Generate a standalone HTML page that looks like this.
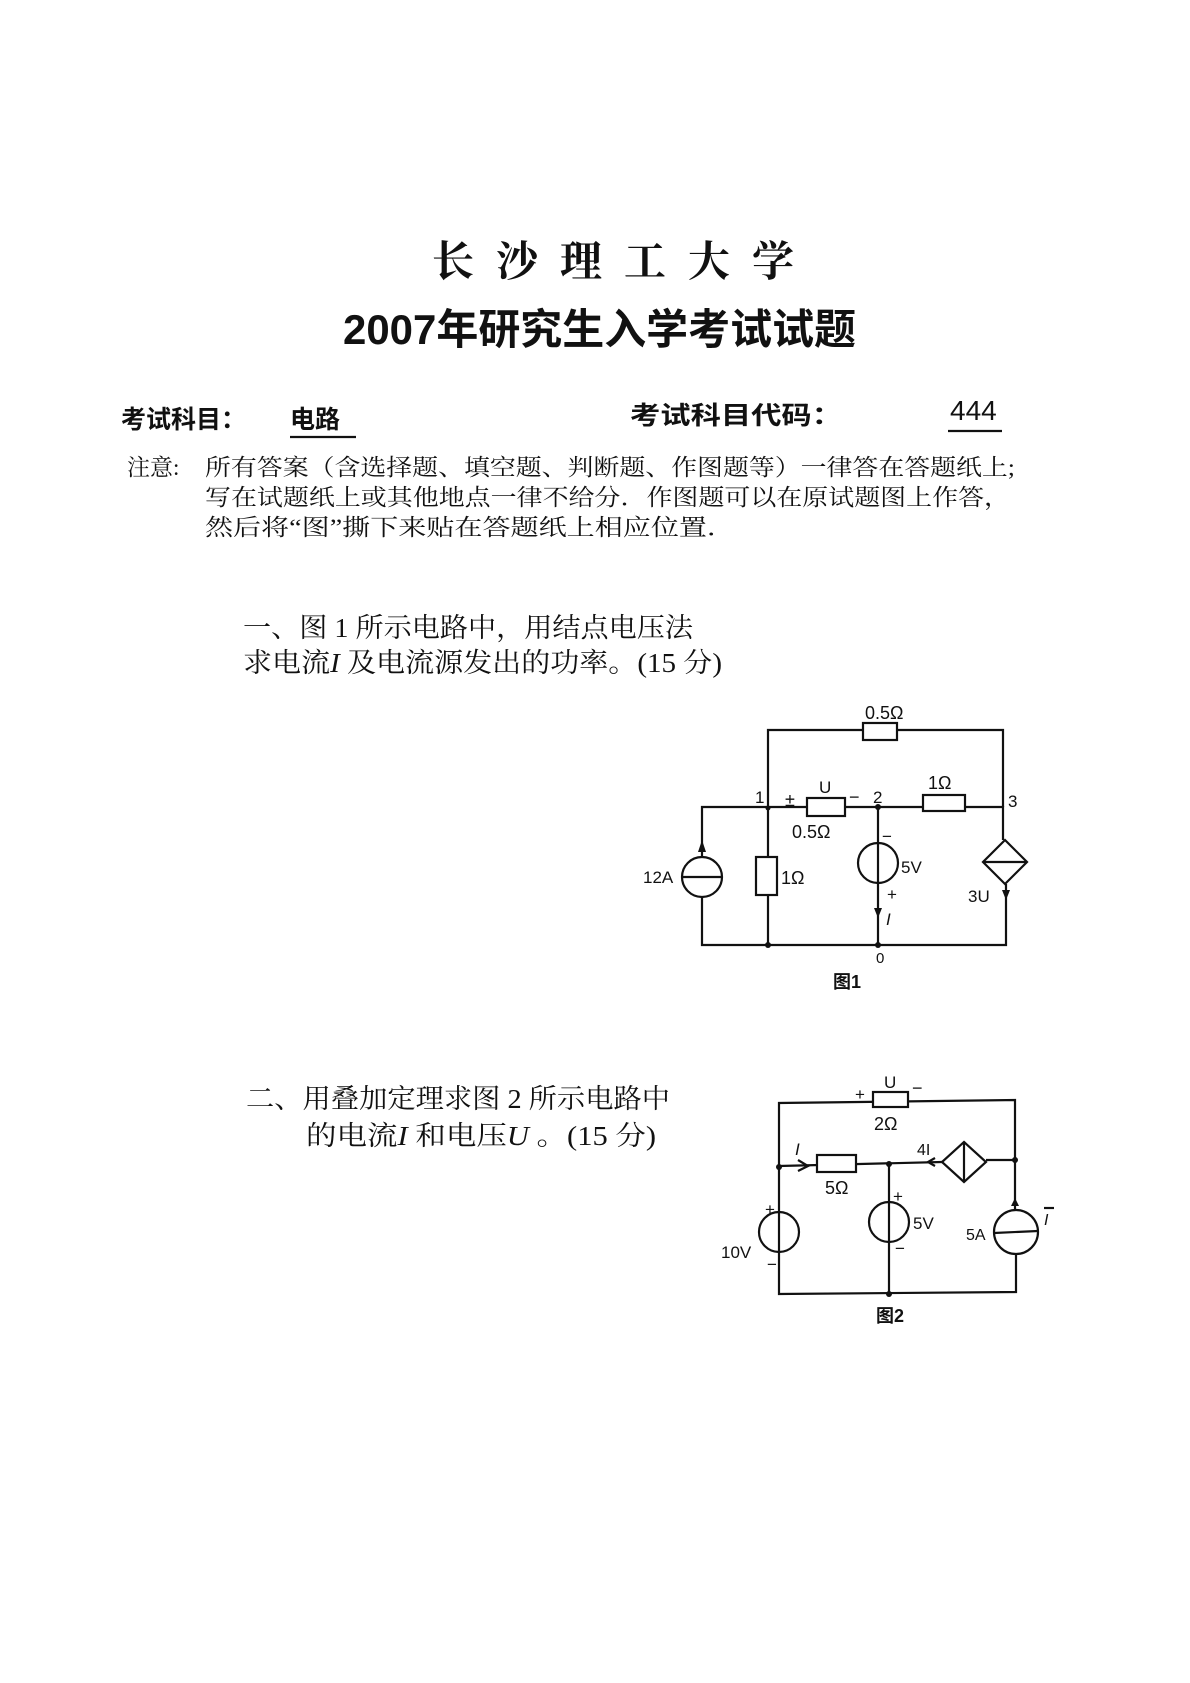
<!DOCTYPE html>
<html><head><meta charset="utf-8"><style>
html,body{margin:0;padding:0;background:#fff}
svg{display:block}
text{font-family:"Liberation Serif","Noto Serif CJK SC","Noto Sans CJK SC",serif;fill:#111}
.s{font-family:"Liberation Sans","Noto Sans CJK SC",sans-serif}
.w{stroke:#111;stroke-width:2.2;fill:none}
.r{stroke:#111;stroke-width:2.2;fill:#fff}
</style></head><body>
<svg width="1190" height="1683" viewBox="0 0 1190 1683" xmlns="http://www.w3.org/2000/svg">
<text x="432" y="276" font-size="42" font-weight="bold" textLength="362" lengthAdjust="spacing">长沙理工大学</text>
<text x="343" y="344" font-size="42" font-weight="bold" class="s" textLength="513" lengthAdjust="spacingAndGlyphs">2007年研究生入学考试试题</text>
<text x="121" y="428" font-size="25" font-weight="bold" class="s">考试科目：</text>
<text x="290" y="428" font-size="25" font-weight="bold" class="s">电路</text>
<line x1="290" y1="437" x2="356" y2="437" class="w" stroke-width="1.6"/>
<text x="630" y="424" font-size="25" font-weight="bold" class="s" textLength="212" lengthAdjust="spacingAndGlyphs">考试科目代码：</text>
<text x="950" y="420" font-size="28" class="s">444</text>
<line x1="948" y1="431" x2="1002" y2="431" class="w" stroke-width="1.6"/>
<text x="127" y="475" font-size="23">注意:</text>
<text x="205" y="475" font-size="23" textLength="810" lengthAdjust="spacingAndGlyphs">所有答案（含选择题、填空题、判断题、作图题等）一律答在答题纸上;</text>
<text x="205" y="505" font-size="23" textLength="805" lengthAdjust="spacingAndGlyphs">写在试题纸上或其他地点一律不给分．作图题可以在原试题图上作答，</text>
<text x="205" y="535" font-size="23" textLength="530" lengthAdjust="spacingAndGlyphs">然后将“图”撕下来贴在答题纸上相应位置．</text>
<text x="243" y="637" font-size="27" textLength="450" lengthAdjust="spacingAndGlyphs">一、图 1 所示电路中，用结点电压法</text>
<text x="243" y="672" font-size="27" textLength="479" lengthAdjust="spacingAndGlyphs">求电流<tspan font-style="italic">I</tspan> 及电流源发出的功率。(15 分)</text>
<g>
<polyline class="w" points="768,807 768,730 1003,730 1003,807"/>
<polyline class="w" points="702,857 702,807 1003,807 1003,840"/>
<polyline class="w" points="702,897 702,945 1006,945 1006,884"/>
<line class="w" x1="768" y1="807" x2="768" y2="945"/>
<line class="w" x1="878" y1="807" x2="878" y2="945"/>
<rect class="r" x="863" y="723" width="34" height="17"/>
<rect class="r" x="807" y="798" width="38" height="18"/>
<rect class="r" x="923" y="795" width="42" height="16"/>
<rect class="r" x="756" y="857" width="21" height="38"/>
<circle class="r" cx="702" cy="877" r="20"/>
<line class="w" x1="682" y1="877" x2="722" y2="877"/>
<polygon points="702,840 698,852 706,852" fill="#111"/>
<circle class="r" cx="878" cy="863" r="20"/>
<line class="w" x1="878" y1="843" x2="878" y2="883"/>
<polygon class="r" points="1005,840 1027,862 1005,884 983,862"/>
<line class="w" x1="983" y1="862" x2="1027" y2="862"/>
<polygon points="1006,900 1002,890 1010,890" fill="#111"/>
<polygon points="878,918 874,908 882,908" fill="#111"/>
<circle cx="768" cy="808" r="2.5" fill="#111"/>
<circle cx="878" cy="807" r="3" fill="#111"/>
<circle cx="768" cy="945" r="3" fill="#111"/>
<circle cx="878" cy="945" r="3" fill="#111"/>
<text class="s" x="865" y="719" font-size="18">0.5Ω</text>
<text class="s" x="755" y="803" font-size="17">1</text>
<text class="s" x="785" y="806" font-size="18">±</text>
<text class="s" x="819" y="793" font-size="17">U</text>
<text class="s" x="849" y="803" font-size="18">−</text>
<text class="s" x="873" y="803" font-size="17">2</text>
<text class="s" x="928" y="789" font-size="18">1Ω</text>
<text class="s" x="1008" y="807" font-size="17">3</text>
<text class="s" x="792" y="838" font-size="18">0.5Ω</text>
<text class="s" x="643" y="883" font-size="17">12A</text>
<text class="s" x="781" y="884" font-size="18">1Ω</text>
<text class="s" x="882" y="842" font-size="17">−</text>
<text class="s" x="901" y="873" font-size="17">5V</text>
<text class="s" x="887" y="900" font-size="17">+</text>
<text class="s" x="886" y="925" font-size="17" font-style="italic">I</text>
<text class="s" x="968" y="902" font-size="17">3U</text>
<text class="s" x="876" y="963" font-size="15">0</text>
<text class="s" x="833" y="988" font-size="18" font-weight="bold">图1</text>
</g>
<text x="246" y="1108" font-size="27" textLength="424" lengthAdjust="spacingAndGlyphs">二、用叠加定理求图 2 所示电路中</text>
<text x="306" y="1145" font-size="27" textLength="350" lengthAdjust="spacingAndGlyphs">的电流<tspan font-style="italic">I</tspan> 和电压<tspan font-style="italic">U</tspan> 。(15 分)</text>
<g>
<polyline class="w" points="779,1212 779,1103 1015,1100 1015,1210"/>
<polyline class="w" points="779,1252 779,1294 1016,1292 1016,1254"/>
<line class="w" x1="779" y1="1166" x2="942" y2="1162"/>
<line class="w" x1="986" y1="1160" x2="1015" y2="1160"/>
<line class="w" x1="889" y1="1164" x2="889" y2="1294"/>
<rect class="r" x="873" y="1092" width="35" height="15"/>
<rect class="r" x="817" y="1155" width="39" height="17"/>
<polygon class="r" points="964,1142 986,1162 964,1182 942,1162"/>
<line class="w" x1="964" y1="1142" x2="964" y2="1182"/>
<circle class="r" cx="779" cy="1232" r="20"/>
<line class="w" x1="779" y1="1212" x2="779" y2="1252"/>
<circle class="r" cx="889" cy="1222" r="20"/>
<line class="w" x1="889" y1="1202" x2="889" y2="1242"/>
<circle class="r" cx="1016" cy="1232" r="22"/>
<line class="w" x1="994" y1="1233" x2="1038" y2="1231"/>
<path class="w" d="M798,1160 L808,1166 L798,1171" stroke-width="1.6"/>
<path class="w" d="M935,1158 L928,1162 L935,1166" stroke-width="1.6"/>
<circle cx="779" cy="1167" r="3" fill="#111"/>
<circle cx="889" cy="1164" r="3" fill="#111"/>
<circle cx="1015" cy="1160" r="3" fill="#111"/>
<circle cx="889" cy="1294" r="3" fill="#111"/>
<text class="s" x="855" y="1100" font-size="17">+</text>
<text class="s" x="884" y="1088" font-size="17">U</text>
<text class="s" x="912" y="1094" font-size="18">−</text>
<text class="s" x="874" y="1130" font-size="18">2Ω</text>
<text class="s" x="795" y="1155" font-size="17" font-style="italic">I</text>
<text class="s" x="825" y="1194" font-size="18">5Ω</text>
<text class="s" x="917" y="1155" font-size="16">4I</text>
<text class="s" x="893" y="1202" font-size="17">+</text>
<text class="s" x="913" y="1229" font-size="17">5V</text>
<text class="s" x="895" y="1254" font-size="17">−</text>
<text class="s" x="765" y="1215" font-size="17">+</text>
<text class="s" x="721" y="1258" font-size="17">10V</text>
<text class="s" x="767" y="1270" font-size="17">−</text>
<text class="s" x="966" y="1240" font-size="16">5A</text>
<text class="s" x="1044" y="1225" font-size="16" font-style="italic">I</text>
<line class="w" x1="1044" y1="1208" x2="1054" y2="1208" stroke-width="1.4"/>
<polygon points="1015,1198 1011,1206 1019,1206" fill="#111"/>
<text class="s" x="876" y="1322" font-size="18" font-weight="bold">图2</text>
</g>
</svg>
</body></html>
